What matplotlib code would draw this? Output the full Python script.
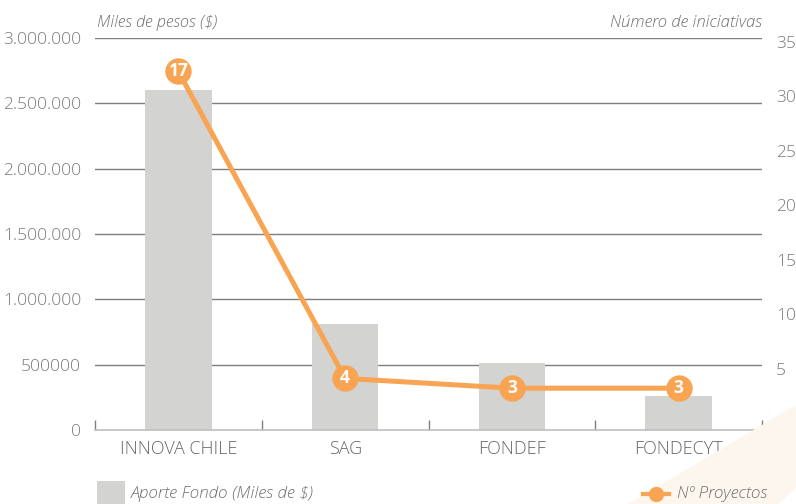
import matplotlib
matplotlib.use("Agg")
from matplotlib import pyplot as plt
from matplotlib.lines import Line2D
from matplotlib.patches import Rectangle, Polygon

# data
categories = ["INNOVA CHILE", "SAG", "FONDEF", "FONDECYT"]
aporte = [2600000, 810000, 510000, 260000]
proyectos_pos = [32.3, 4.1, 3.2, 3.2]   # where the markers sit on the right axis
proyectos_lbl = ["17", "4", "3", "3"]    # what the markers say
left_ticks = [0, 500000, 1000000, 1500000, 2000000, 2500000, 3000000]
left_labels = ["0", "500000", "1.000.000", "1.500.000", "2.000.000", "2.500.000", "3.000.000"]
right_ticks = [0, 5, 10, 15, 20, 25, 30, 35]

BAR = "#d3d3d1"
ORANGE = "#f9a453"
GRID = "#7f7f7f"
TXT = "#7a7a7a"

plt.rcParams["font.family"] = ["Open Sans", "DejaVu Sans"]
plt.rcParams["font.weight"] = "light"

W, H = 796, 504
fig = plt.figure(figsize=(W / 100, H / 100), dpi=100)

# faint background band bottom right
band = Polygon([(628 / W, 0), (W / W, 1 - 405 / H), (W / W, 1 - 488 / H), (778 / W, 0)],
               closed=True, transform=fig.transFigure, facecolor="#fdf6ee", edgecolor="none", zorder=0)
fig.patches.append(band)

ax = fig.add_axes([95 / W, 1 - 430 / H, (762 - 95) / W, (430 - 38) / H])
ax.patch.set_alpha(0)
x = list(range(len(categories)))
ax.bar(x, aporte, width=0.4, color=BAR, zorder=2)
ax.set_xlim(-0.5, 3.5)
ax.set_ylim(0, 3000000)
for v in left_ticks[1:]:
    ax.axhline(v, color=GRID, lw=1, zorder=1)
ax.set_yticks(left_ticks)
ax.set_yticklabels(left_labels)
ax.tick_params(axis="y", length=0, pad=10, labelsize=12.5, labelcolor=TXT)
ax.set_xticks(x)
ax.set_xticklabels(categories)
ax.tick_params(axis="x", which="major", length=0, pad=7, labelsize=13, labelcolor="#666666")
ax.set_xticks([-0.5, 0.5, 1.5, 2.5, 3.5], minor=True)
ax.tick_params(axis="x", which="minor", direction="in", length=7, width=1, color=GRID)
for s in ["top", "left", "right"]:
    ax.spines[s].set_visible(False)
ax.spines["bottom"].set_color("#bfbfbf")
ax.spines["bottom"].set_linewidth(1.2)

ax2 = ax.twinx()
ax2.set_ylim(-0.64, 35.37)
ax2.plot(x, proyectos_pos, color=ORANGE, lw=3.6, zorder=3, solid_capstyle="round")
ax2.plot(x, proyectos_pos, "o", color=ORANGE, markersize=19, markeredgewidth=0, zorder=4)
for xi, yi, lab in zip(x, proyectos_pos, proyectos_lbl):
    ax2.text(xi, yi, lab, ha="center", va="center", color="white", fontsize=12.5,
             fontweight="bold", zorder=5)
ax2.set_yticks(right_ticks)
ax2.tick_params(axis="y", length=0, pad=10, labelsize=12.5, labelcolor=TXT)
for s in ax2.spines.values():
    s.set_visible(False)

fig.text(97 / W, 1 - 23 / H, "Miles de pesos ($)", ha="left", va="center",
         fontsize=11.8, style="italic", color="#6f6f6f")
fig.text(762 / W, 1 - 23 / H, "Número de iniciativas", ha="right", va="center",
         fontsize=12, style="italic", color="#6f6f6f")

# legend drawn by hand
fig.patches.append(Rectangle((97 / W, 0), 28 / W, 23 / H, transform=fig.transFigure,
                             facecolor=BAR, edgecolor="none"))
fig.text(131 / W, 1 - 494 / H, "Aporte Fondo (Miles de $)", ha="left", va="center",
         fontsize=12.3, style="italic", color="#6f6f6f")
fig.lines.append(Line2D([643 / W, 669 / W], [1 - 494 / H] * 2, transform=fig.transFigure,
                        color=ORANGE, lw=3))
fig.lines.append(Line2D([656 / W], [1 - 494 / H], transform=fig.transFigure, marker="o",
                        markersize=10, color=ORANGE))
fig.text(677 / W, 1 - 494 / H, "Nº Proyectos", ha="left", va="center",
         fontsize=12.3, style="italic", color="#6f6f6f")

fig.savefig("out.png", dpi=100)
